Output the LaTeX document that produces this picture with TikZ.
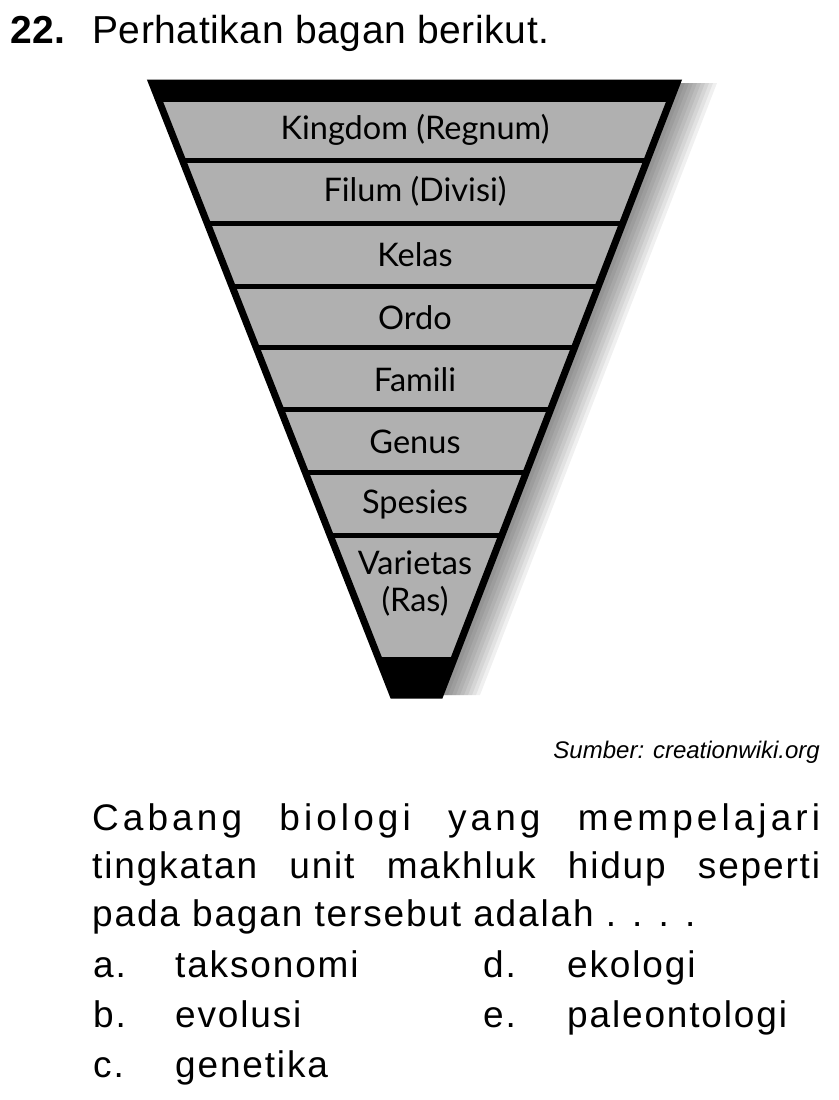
\documentclass[tikz,border=0pt]{standalone}
\usepackage{fontspec}
\setmainfont{Liberation Sans}
\newfontfamily\labelfont{Lato}
\newfontfamily\bodyfont[LetterSpace=5]{Liberation Sans}
\newfontfamily\widefont[LetterSpace=11]{Liberation Sans}
\newfontfamily\headfont[LetterSpace=1.5]{Liberation Sans}
\usetikzlibrary{calc}
\usetikzlibrary{positioning}

\tikzset{
  level/.style={font=\labelfont\fontsize{32.5}{37}\selectfont, align=center, inner sep=0pt},
  body/.style={font=\bodyfont\fontsize{37}{40}\selectfont, anchor=base west, inner sep=0pt},
}

\begin{document}
\begin{tikzpicture}[x=1pt,y=-1pt]
  \useasboundingbox (0,0) rectangle (838,1100);
  % corners of the chart
  \coordinate (tl) at (152,83);
  \coordinate (tr) at (677,83);
  \coordinate (bl) at (393,695);
  \coordinate (br) at (440,695);
  % soft shadow
  \foreach \s in {4,8,...,40}
    \fill[black, opacity=0.06] ([xshift=\s]tl) -- ([xshift=\s]tr) -- ([xshift=\s]br) -- ([xshift=\s]bl) -- cycle;
  % draw body
  \fill[black!31] (tl) -- (tr) -- (br) -- (bl) -- cycle;
  \fill (tl) -- (tr) -- ($(tr)!0.031!(br)$) -- ($(tl)!0.031!(bl)$) -- cycle;
  \fill ($(tl)!0.938!(bl)$) -- ($(tr)!0.938!(br)$) -- (br) -- (bl) -- cycle;
  % dividers
  \foreach \f in {0.126,0.229,0.332,0.433,0.534,0.636,0.739}
    \draw[line width=5pt] ($(tl)!\f!(bl)$) -- ($(tr)!\f!(br)$);
  \draw[line width=7pt, line join=miter] (tl) -- (tr) -- (br) -- (bl) -- cycle;

  % add levels
  \node[level] (kingdom) at (415,130) {Kingdom (Regnum)};
  \node[level] (filum) at (415,191) {Filum (Divisi)};
  \node[level] (kelas) at (415,255) {Kelas};
  \node[level] (ordo) at (415,318) {Ordo};
  \node[level] (famili) at (415,380) {Famili};
  \node[level] (genus) at (415,442) {Genus};
  \node[level] (spesies) at (415,504) {Spesies};
  \node[level] (varietas) at (415,584) {Varietas\\(Ras)};

  % question text
  \node[body, font=\headfont\fontsize{39}{42}\selectfont\bfseries] (nomor) at (10,43) {22.};
  \node[body, font=\headfont\fontsize{39}{42}\selectfont] (intro) at (92,43) {Perhatikan bagan berikut.};
  \node[anchor=base east, inner sep=0pt, font=\fontsize{24}{26}\selectfont\itshape] (sumber) at (820,758) {Sumber: creationwiki.org};

  \node[body, font=\widefont\fontsize{37}{40}\selectfont] (baris1) at (92,830) {\makebox[728pt][s]{Cabang biologi yang mempelajari}};
  \node[body] (baris2) at (92,878) {\makebox[728pt][s]{tingkatan unit makhluk hidup seperti}};
  \node[body] (baris3) at (92,926) {pada bagan tersebut adalah . . . .};

  % answer choices
  \node[body] (a) at (93,977) {a.};
  \node[body] (taksonomi) at (175,977) {taksonomi};
  \node[body] (b) at (93,1027) {b.};
  \node[body] (evolusi) at (175,1027) {evolusi};
  \node[body] (c) at (93,1077) {c.};
  \node[body] (genetika) at (175,1077) {genetika};
  \node[body] (d) at (483,977) {d.};
  \node[body] (ekologi) at (567,977) {ekologi};
  \node[body] (e) at (483,1027) {e.};
  \node[body] (paleontologi) at (567,1027) {paleontologi};
\end{tikzpicture}
\end{document}
